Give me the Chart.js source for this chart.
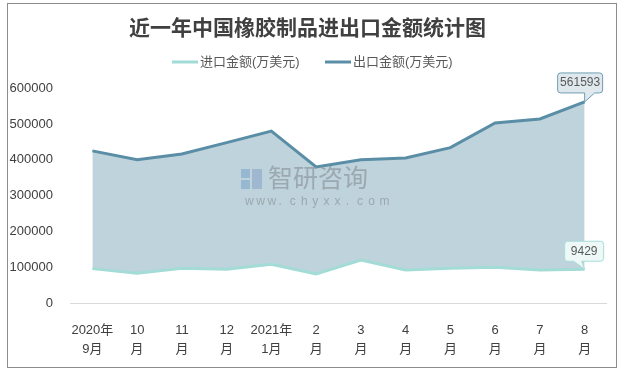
<!DOCTYPE html>
<html>
<head>
<meta charset="utf-8">
<script src="https://cdn.jsdelivr.net/npm/chart.js@4/dist/chart.umd.min.js"></script>
<style>
    body { margin: 0; background: #fff; }
    .frame {
        position: absolute; left: 7px; top: 3px;
        width: 608px; height: 363px;
        border: 1px solid #8c8c8c;
    }
    canvas { display: block; }
</style>
</head>
<body>
<div class="frame"><canvas id="rubberChart" width="608" height="363"></canvas></div>
<script>
const months = [
    ["2020年", "9月"], ["10", "月"], ["11", "月"], ["12", "月"],
    ["2021年", "1月"], ["2", "月"], ["3", "月"], ["4", "月"],
    ["5", "月"], ["6", "月"], ["7", "月"], ["8", "月"],
];
// 万美元
const importVals = [96000, 83000, 97000, 94000, 108000, 81000, 120000, 92000, 97000, 100000, 92000, 94290];
const exportVals = [425000, 400000, 416000, 448000, 480000, 380000, 400000, 405000, 434000, 503000, 514000, 561593];
const lastLabels = ["9429", "561593"]; // as printed on the chart
const yMax = 600000;
const yStep = 100000;

const FONT = '"Liberation Sans", "Noto Sans CJK SC", sans-serif';

function roundRectTail(ctx, l, t, r, b, rad, tail) {
    ctx.beginPath();
    ctx.moveTo(l + rad, t);
    ctx.lineTo(r - rad, t);
    ctx.quadraticCurveTo(r, t, r, t + rad);
    ctx.lineTo(r, b - rad);
    ctx.quadraticCurveTo(r, b, r - rad, b);
    tail.forEach(([x, y]) => ctx.lineTo(x, y));
    ctx.lineTo(l + rad, b);
    ctx.quadraticCurveTo(l, b, l, b - rad);
    ctx.lineTo(l, t + rad);
    ctx.quadraticCurveTo(l, t, l + rad, t);
    ctx.closePath();
}

const extras = {
    id: "extras",
    afterDraw(chart) {
        const ctx = chart.ctx;
        ctx.save();

        // legend
        const items = [
            { text: "进口金额(万美元)", color: "#a3dbd6", x: 164 },
            { text: "出口金额(万美元)", color: "#5a8ea6", x: 317 },
        ];
        ctx.font = "13px " + FONT;
        ctx.textBaseline = "middle";
        ctx.textAlign = "left";
        items.forEach((it) => {
            ctx.strokeStyle = it.color;
            ctx.lineWidth = 3;
            ctx.beginPath();
            ctx.moveTo(it.x, 58);
            ctx.lineTo(it.x + 26, 58);
            ctx.stroke();
            ctx.fillStyle = "#595959";
            ctx.fillText(it.text, it.x + 28, 58);
        });

        // watermark
        const cx = 305, cy = 176;
        ctx.fillStyle = "rgba(120,160,200,0.55)";
        ctx.fillRect(cx - 72, cy - 11, 9, 9);
        ctx.fillRect(cx - 72, cy, 9, 9);
        ctx.fillStyle = "rgba(120,150,190,0.45)";
        ctx.fillRect(cx - 61, cy - 11, 10, 20);
        ctx.fillStyle = "rgba(140,150,155,0.7)";
        ctx.font = "25px " + FONT;
        ctx.fillText("智研咨询", cx - 45, cy);
        ctx.font = "12px " + FONT;
        const url = "www.chyxx.com";
        for (let i = 0; i < url.length; i++) {
            ctx.fillText(url[i], cx - 68 + i * 11.2, cy + 22);
        }

        // callouts for last points
        const imp = chart.getDatasetMeta(0).data[11];
        const exp = chart.getDatasetMeta(1).data[11];
        ctx.font = "12px " + FONT;
        ctx.textAlign = "center";

        let px = exp.x, py = exp.y;
        roundRectTail(ctx, px - 27, py - 29, px + 18, py - 9, 3,
            [[px + 10, py - 9], [px, py], [px, py - 9]]);
        ctx.fillStyle = "#dfe8ed";
        ctx.fill();
        ctx.strokeStyle = "#6f9db3";
        ctx.lineWidth = 1;
        ctx.stroke();
        ctx.fillStyle = "#595959";
        ctx.fillText(lastLabels[1], px - 4.5, py - 19);

        px = imp.x; py = imp.y;
        roundRectTail(ctx, px - 20, py - 28, px + 19, py - 8, 3,
            [[px - 3, py - 8], [px, py], [px - 11, py - 8]]);
        ctx.fillStyle = "#eef8f7";
        ctx.fill();
        ctx.strokeStyle = "#a8ddd8";
        ctx.stroke();
        ctx.fillStyle = "#595959";
        ctx.fillText(lastLabels[0], px - 0.5, py - 18);

        ctx.restore();
    },
};

new Chart(document.getElementById("rubberChart"), {
    type: "line",
    data: {
        labels: months,
        datasets: [
            {
                label: "进口金额(万美元)",
                data: importVals,
                borderColor: "#a3dbd6",
                borderWidth: 3,
                pointRadius: 0,
                tension: 0,
                fill: false,
            },
            {
                label: "出口金额(万美元)",
                data: exportVals,
                borderColor: "#5a8ea6",
                backgroundColor: "rgb(191,211,220)",
                borderWidth: 3,
                pointRadius: 0,
                tension: 0,
                fill: "-1",
            },
        ],
    },
    options: {
        responsive: false,
        animation: false,
        layout: { padding: { left: 0, right: 9, top: 0, bottom: 0 } },
        plugins: {
            legend: { display: false },
            tooltip: { enabled: false },
            title: {
                display: true,
                text: "近一年中国橡胶制品进出口金额统计图",
                color: "#404040",
                font: { family: '"Noto Sans CJK SC", sans-serif', size: 21, weight: "bold", lineHeight: 1.2 },
                padding: { top: 10, bottom: 49 },
            },
        },
        scales: {
            x: {
                offset: true,
                grid: { display: false },
                border: { display: false },
                ticks: {
                    color: "#404040",
                    font: { family: FONT, size: 13, lineHeight: 1.45 },
                    padding: 10,
                    maxRotation: 0,
                    autoSkip: false,
                },
                afterFit(scale) { scale.height = 64; },
            },
            y: {
                min: 0,
                max: yMax,
                grid: {
                    drawTicks: false,
                    color: (c) => (c.tick && c.tick.value === 0 ? "#d9d9d9" : "rgba(0,0,0,0)"),
                },
                border: { display: false },
                ticks: {
                    stepSize: yStep,
                    color: "#404040",
                    font: { family: FONT, size: 13 },
                    padding: 17,
                    callback: (v) => String(v),
                },
                afterFit(scale) { scale.width = 62; },
            },
        },
    },
    plugins: [extras],
});
</script>
</body>
</html>
